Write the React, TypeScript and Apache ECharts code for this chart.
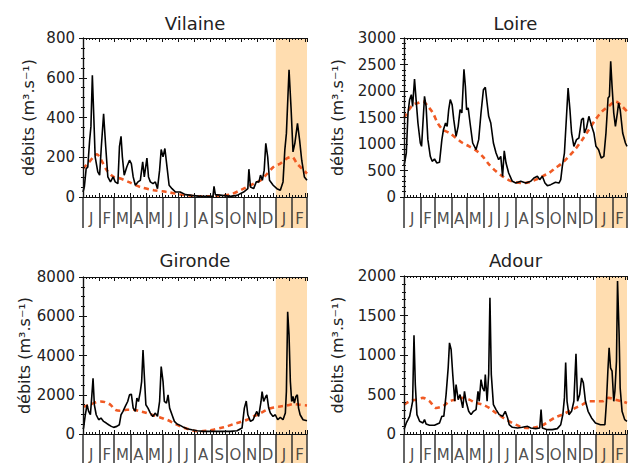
import React, { useEffect, useRef } from "react";
import * as echarts from "echarts";

// Day-of-year boundaries (Jan..Dec, then Jan, Feb repeated)
const monthStart = [0, 31, 59, 90, 120, 151, 181, 212, 243, 273, 304, 334, 365, 396, 424];
const monthLabels = ["J", "F", "M", "A", "M", "J", "J", "A", "S", "O", "N", "D", "J", "F"];
const shadeStart = 365;
const shadeEnd = 424;

const titles = ["Vilaine", "Loire", "Gironde", "Adour"];
const yMax = [800, 3000, 8000, 2000];
const yStep = [200, 500, 2000, 500];
const yMinor = [4, 5, 4, 5];

// [day, discharge m3/s]
const vilaineObs = [
  [0, 25], [2.5, 50], [6, 143], [9, 150], [12.6, 286], [15, 354], [17.7, 612], [20, 438], [23, 202], [28, 126],
  [31.5, 110], [34.7, 253], [39, 418], [43, 253], [47, 101], [52, 76], [57, 101], [61, 76], [66, 67], [69, 253],
  [72, 305], [74.5, 202], [78, 110], [83, 152], [88, 185], [91.5, 168], [95, 101], [99, 59], [104, 76], [108.5, 84],
  [113, 177], [116, 101], [121, 196], [124, 101], [127.5, 76], [132.5, 67], [137, 76], [141, 42], [145, 135], [148, 239],
  [151.5, 202], [155, 244], [159, 152], [163, 59], [168.5, 42], [175, 25], [184, 25], [194, 12], [206, 8], [222, 3],
  [238, 3], [246, 3], [248, 54], [250.5, 12], [263, 8], [279, 3], [291.5, 8], [304, 25], [312, 42], [314, 140],
  [317, 50], [323, 42], [328, 76], [333, 76], [336, 110], [339.5, 84], [343, 135], [346, 270], [349.6, 202], [353, 84],
  [360, 59], [367, 42], [373.5, 34], [378.6, 76], [382, 236], [385, 320], [390, 640], [394, 438], [397.5, 227], [401, 270],
  [406, 370], [410, 286], [414, 185], [419, 101], [424, 84]
];
const vilaineClim = [
  [0, 143], [9, 168], [20, 202], [26.5, 215], [33, 194], [45, 135], [58, 101], [71, 93], [86, 76], [108.5, 50],
  [134, 34], [159, 25], [184, 13], [209.5, 5], [235, 3], [260, 7], [279, 13], [298, 34], [317, 59], [336, 84],
  [348, 115], [361, 152], [373.5, 168], [386, 194], [395.6, 202], [405, 168], [414.6, 143], [424, 118]
];

const loireObs = [
  [0, 600], [1, 640], [4.4, 830], [7.6, 1585], [10.7, 1837], [13.9, 1930], [16.4, 1710], [20, 2226], [23, 1837], [26.5, 1396],
  [31, 1019], [33.4, 956], [36, 1396], [39, 1900], [42, 1710], [45.4, 1082], [50, 767], [53.6, 673], [58, 717], [62.5, 641],
  [67.5, 654], [72, 1082], [75, 1270], [79, 1396], [82, 1333], [85, 1648], [88, 1837], [91.5, 1742], [94.6, 1459], [99, 1145],
  [103, 1333], [106.6, 1648], [110, 1585], [114, 2410], [116.7, 2088], [119, 1648], [122, 1680], [125.6, 1396], [130.6, 1019], [137, 893],
  [142, 1082], [146.4, 1585], [151, 2025], [154.6, 2070], [158, 1774], [161, 1522], [165, 1396], [170, 1019], [175, 830], [180, 704],
  [184, 767], [187.4, 390], [190.6, 870], [194, 641], [199, 453], [206, 296], [212.6, 264], [222, 296], [231.6, 264], [241, 296],
  [247, 358], [253.6, 390], [258, 327], [263, 390], [268, 264], [272.6, 214], [279, 233], [288, 277], [294.7, 264], [298, 327],
  [301, 579], [305, 830], [308.6, 1459], [312, 2057], [315.5, 1648], [318.6, 1208], [323, 956], [328, 1082], [332.5, 1113], [337.6, 1459],
  [341, 1490], [343, 1208], [347, 1302], [351.5, 1522], [356, 1365], [361, 1208], [365, 956], [370, 893], [375, 736], [380, 767],
  [384, 1208], [388, 1868], [390.6, 1900], [393, 2560], [395.6, 2088], [398.8, 1585], [402, 1333], [405.7, 1585], [408, 1774], [411, 1648],
  [415.8, 1208], [421, 1019], [424, 956]
];
const loireClim = [
  [0, 1490], [7.6, 1616], [17, 1742], [26.5, 1774], [36, 1805], [45.4, 1710], [55, 1585], [64, 1396], [74, 1270], [86.5, 1208],
  [99, 1113], [111.7, 1019], [124, 956], [137, 880], [149.5, 767], [162, 610], [175, 484], [187.4, 390], [200, 314], [212.6, 277],
  [225, 264], [238, 277], [250.5, 327], [263, 390], [275.7, 453], [288, 547], [301, 641], [313.6, 767], [326, 906], [339, 1082],
  [351.5, 1270], [364, 1459], [376.7, 1616], [389, 1710], [402, 1805], [414.6, 1710], [424, 1616]
];

const girondeObs = [
  [0, 250], [1, 304], [4.4, 981], [7.6, 1488], [10.7, 1150], [14, 981], [16.4, 1826], [19, 2841], [21.5, 1488], [25, 981],
  [29.7, 727], [34, 812], [39, 643], [44, 558], [48.6, 473], [53.6, 389], [58, 338], [64, 389], [68.8, 473], [72, 981],
  [75.7, 1150], [80, 1404], [84.6, 1657], [88, 1995], [91.5, 2029], [95, 1319], [99, 1150], [102, 1826], [105, 1657], [108.5, 2164],
  [111, 2672], [113.6, 4278], [116, 3010], [119, 1488], [123, 1319], [127.5, 1065], [132, 896], [137, 1065], [141, 896], [145, 1657],
  [148, 3433], [151.5, 2672], [154, 1657], [158, 1573], [161, 1995], [164, 1319], [168.5, 981], [173, 643], [178, 507], [184, 440],
  [190.6, 338], [197, 270], [206, 220], [216, 169], [228, 135], [241, 135], [253.7, 135], [266, 135], [279, 135], [291.5, 169],
  [301, 304], [305.4, 1319], [309, 1680], [312, 981], [317, 643], [322, 727], [326, 981], [329, 1150], [332.5, 896], [337, 1657],
  [339, 2164], [342, 1657], [346, 1911], [348, 1995], [351.5, 1319], [354.6, 1065], [359.7, 896], [364, 981], [368.5, 727], [373.5, 846],
  [378.6, 727], [383, 1065], [385, 2164], [387.4, 6223], [390, 5039], [392.5, 2672], [395, 1657], [397.5, 1911], [400, 1573], [403, 1911],
  [405.7, 1995], [408, 1319], [411, 981], [416.5, 727], [424, 676]
];
const girondeClim = [
  [0, 1404], [10.7, 1454], [20, 1573], [33, 1657], [42, 1623], [52, 1488], [61, 1234], [71, 1184], [83, 1234], [95.6, 1234],
  [108.5, 1150], [121, 1065], [134, 947], [146, 846], [159, 727], [171.6, 558], [184, 389], [197, 270], [209.5, 169], [222, 135],
  [234.7, 169], [247, 220], [260, 304], [272.6, 389], [285, 507], [298, 609], [310.5, 727], [323, 896], [336, 1065], [348, 1234],
  [361, 1353], [373.5, 1404], [386, 1454], [398.8, 1522], [411, 1488], [424, 1454]
];

const adourObs = [
  [0, 60], [1, 76], [4.4, 140], [7.6, 182], [10.7, 224], [14, 330], [16.4, 414], [19, 1250], [21.5, 626], [24.6, 245],
  [29.7, 161], [36, 140], [39, 182], [42, 127], [48.6, 110], [58, 110], [67.5, 140], [72, 224], [75.7, 224], [80, 499],
  [84, 837], [86.5, 1154], [89.6, 1070], [92.7, 753], [96.5, 414], [99, 626], [103, 435], [106.6, 499], [111.7, 330], [115, 541],
  [118, 414], [123, 287], [127.5, 245], [132, 287], [137, 309], [140.7, 541], [143, 414], [146.4, 689], [149.5, 583], [152.7, 541],
  [154.6, 753], [158, 414], [161, 753], [163.4, 1725], [166, 753], [170, 372], [175, 309], [181, 245], [187.4, 224], [192.5, 287],
  [197, 203], [200, 118], [206, 85], [216, 76], [225, 85], [235, 97], [241, 76], [250.5, 68], [258, 76], [260.6, 310],
  [263, 76], [272.6, 55], [282, 55], [291.5, 68], [298, 118], [302, 245], [305, 457], [307.4, 905], [310, 414], [313.6, 245],
  [318.6, 287], [323, 414], [327, 1015], [330, 414], [334, 499], [337.6, 710], [341, 647], [345, 414], [350, 287], [356.6, 203],
  [364, 140], [373.5, 118], [382, 118], [385, 414], [387.6, 795], [390, 1091], [392.7, 837], [395.6, 795], [398.8, 414], [401, 541],
  [404, 922], [406, 1936], [409, 1260], [411, 583], [414.6, 287], [419.6, 182], [424, 161]
];
const adourClim = [
  [0, 372], [10.7, 414], [23, 435], [36, 457], [48.6, 414], [61, 330], [74, 351], [86.5, 414], [99, 435], [111.7, 457],
  [124, 435], [137, 393], [149.5, 372], [162, 330], [175, 266], [187.4, 211], [200, 161], [212.6, 118], [225, 85], [238, 76],
  [250.5, 85], [263, 110], [275.7, 161], [288, 211], [301, 245], [313.6, 287], [326, 330], [339, 372], [351.5, 414], [364, 414],
  [376.7, 414], [389, 457], [402, 435], [414.6, 414], [424, 393]
];

const obsData = [vilaineObs, loireObs, girondeObs, adourObs];
const climData = [vilaineClim, loireClim, girondeClim, adourClim];

// layout
const plotBoxes = [
  { left: 83, top: 38, width: 224, height: 159 },
  { left: 404, top: 38, width: 223, height: 159 },
  { left: 83, top: 277, width: 224, height: 157 },
  { left: 404, top: 276, width: 223, height: 158 },
];
const nameGaps = [47, 59, 48, 59];
const titleY = [23, 23, 260, 260];
const STRIP_H = 31;

const FONT = "'DejaVu Sans', sans-serif";
const INK = "#222";
const SHADE = "#FFDDB0";
const CLIM = "#F05A24";

function buildOption() {
  const grid: any[] = [];
  const xAxis: any[] = [];
  const yAxis: any[] = [];
  const series: any[] = [];
  const graphic: any[] = [];

  const frameLine = { show: true, lineStyle: { color: "#111", width: 1.2 } };
  const tick = { show: true, inside: true, length: 4, lineStyle: { color: "#111", width: 1 } };
  const minor = (n: number) => ({ show: true, splitNumber: n, length: 2, lineStyle: { color: "#111", width: 1 } });

  plotBoxes.forEach((b) => {
    grid.push({ left: b.left, top: b.top, width: b.width, height: b.height, containLabel: false });
  });
  plotBoxes.forEach((b) => {
    grid.push({ left: b.left, top: b.top + b.height, width: b.width, height: STRIP_H, containLabel: false });
  });

  for (let i = 0; i < 4; i++) {
    const xBase = {
      type: "value", gridIndex: i, min: 0, max: 424, interval: 30, z: 6,
      axisLine: { ...frameLine, onZero: false }, axisTick: tick, minorTick: minor(5),
      axisLabel: { show: false }, splitLine: { show: false },
    };
    xAxis.push({ ...xBase, position: "bottom" });
    xAxis.push({ ...xBase, position: "top" });
    const yBase = {
      type: "value", gridIndex: i, min: 0, max: yMax[i], interval: yStep[i], z: 6,
      axisLine: frameLine, axisTick: tick, minorTick: minor(yMinor[i]), splitLine: { show: false },
    };
    yAxis.push({
      ...yBase, position: "left",
      axisLabel: {
        show: true, fontSize: 15, fontFamily: FONT, color: INK, margin: 8,
        formatter: (v: number) => String(v),
      },
      name: "débits (m³.s⁻¹)", nameLocation: "middle", nameGap: nameGaps[i],
      nameTextStyle: { fontSize: 16, fontFamily: FONT, color: INK },
    });
    yAxis.push({ ...yBase, position: "right", axisLabel: { show: false } });
  }
  for (let i = 0; i < 4; i++) {
    xAxis.push({ type: "value", gridIndex: 4 + i, min: 0, max: 424, show: false });
    yAxis.push({ type: "value", gridIndex: 4 + i, min: 0, max: 1, show: false });
  }

  for (let i = 0; i < 4; i++) {
    series.push({
      type: "line", xAxisIndex: 2 * i, yAxisIndex: 2 * i, data: climData[i],
      showSymbol: false, symbol: "none", smooth: 0.3, z: 3,
      lineStyle: { color: CLIM, width: 2.6, type: [5, 4] },
      markArea: {
        silent: true, itemStyle: { color: SHADE },
        data: [[{ xAxis: shadeStart }, { xAxis: shadeEnd }]],
      },
    });
    series.push({
      type: "line", xAxisIndex: 2 * i, yAxisIndex: 2 * i, data: obsData[i],
      showSymbol: false, symbol: "none", z: 4,
      lineStyle: { color: "#000", width: 1.6 },
    });
    const mids = monthLabels.map((_, k) => [(monthStart[k] + monthStart[k + 1]) / 2, 0.28]);
    series.push({
      type: "scatter", xAxisIndex: 8 + i, yAxisIndex: 8 + i, data: mids,
      symbolSize: 0.1, itemStyle: { color: "rgba(0,0,0,0)" }, silent: true, z: 5,
      label: {
        show: true, position: "inside", fontSize: 15, fontFamily: FONT, color: INK,
        formatter: (p: any) => monthLabels[p.dataIndex],
      },
      markArea: {
        silent: true, itemStyle: { color: SHADE },
        data: [[{ xAxis: shadeStart }, { xAxis: shadeEnd }]],
      },
      markLine: {
        silent: true, symbol: ["none", "none"], label: { show: false },
        lineStyle: { color: "#333", width: 1.5, type: "solid" },
        data: monthStart.map((d) => ({ xAxis: d })),
      },
    });
    const b = plotBoxes[i];
    graphic.push({
      type: "text", x: b.left + b.width / 2, y: titleY[i],
      style: {
        text: titles[i], fontSize: 18, fontWeight: "normal", fontFamily: FONT, fill: INK,
        align: "center", verticalAlign: "middle",
      },
    });
  }

  return { animation: false, backgroundColor: "#fff", grid, xAxis, yAxis, series, graphic };
}

export default function App() {
  const ref = useRef<HTMLDivElement>(null);
  useEffect(() => {
    if (!ref.current) return;
    const chart = echarts.init(ref.current, undefined, { renderer: "svg" });
    chart.setOption(buildOption() as any);
    return () => chart.dispose();
  }, []);
  return <div ref={ref} style={{ position: "fixed", left: 0, top: 0, width: 628, height: 463 }} />;
}
